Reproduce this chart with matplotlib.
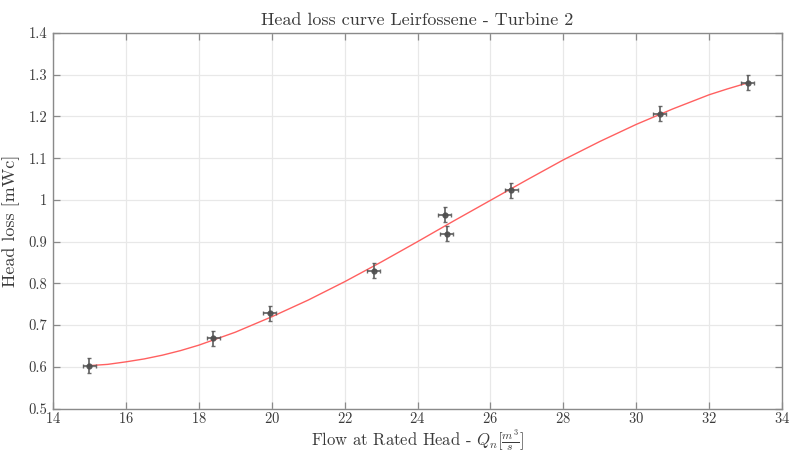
import matplotlib
matplotlib.use("Agg")
import matplotlib.pyplot as plt
from matplotlib.ticker import FuncFormatter

# measured operating points (flow, head loss) with their uncertainties
flow = [15.0, 18.4, 19.95, 22.8, 24.75, 24.8, 26.57, 30.65, 33.06]
head_loss = [0.603, 0.669, 0.728, 0.830, 0.964, 0.919, 1.023, 1.206, 1.281]
flow_err = 0.18
head_err = 0.018

# fitted head loss curve
curve_flow = [15, 15.5, 16, 16.5, 17, 17.5, 18, 19, 20, 21, 22, 23, 24, 25,
              26, 27, 28, 29, 30, 31, 32, 32.5, 33, 33.06]
curve_loss = [0.603, 0.606, 0.612, 0.619, 0.628, 0.639, 0.652, 0.683, 0.720,
              0.760, 0.804, 0.851, 0.900, 0.950, 0.999, 1.048, 1.096, 1.140,
              1.181, 1.218, 1.252, 1.266, 1.279, 1.281]

plt.rcParams['font.family'] = 'cmr10'
plt.rcParams['mathtext.fontset'] = 'cm'
plt.rcParams['axes.formatter.use_mathtext'] = True

txt = '#3a3a3a'
fig = plt.figure(figsize=(7.98, 4.54), dpi=100)
ax = fig.add_axes([0.0664, 0.1, 0.9136, 0.8273])

ax.plot(curve_flow, curve_loss, color='#ff6060', lw=1.0, zorder=2)
ax.errorbar(flow, head_loss, xerr=flow_err, yerr=head_err, fmt='o',
            ms=3.5, color='#505050', ecolor='#5a5a5a', elinewidth=1.3,
            capsize=1.5, capthick=1.0, alpha=0.9, zorder=3)

ax.set_xlim(14, 34)
ax.set_ylim(0.5, 1.4)
ax.set_xticks(range(14, 35, 2))
ax.set_yticks([0.5 + 0.1 * i for i in range(10)])
ax.yaxis.set_major_formatter(FuncFormatter(lambda v, p: '%g' % round(v, 2)))

ax.grid(True, color='#e8e8e8', lw=0.9)
ax.set_axisbelow(True)
for s in ax.spines.values():
    s.set_color('#8a8a8a')
    s.set_linewidth(1.0)
ax.tick_params(direction='in', length=5, width=0.9, color='#8a8a8a',
               top=True, right=True, labelsize=10.5, labelcolor=txt)
ax.tick_params(axis='x', pad=2)
ax.tick_params(axis='y', pad=4)

ax.set_title('Head loss curve Leirfossene - Turbine 2', fontsize=13,
             color=txt, pad=6)
ax.set_xlabel(r'Flow at Rated Head - $Q_n[\frac{m^3}{s}]$', fontsize=12,
              color=txt, labelpad=1)
ax.set_ylabel('Head loss [mWc]', fontsize=13, color=txt, labelpad=6)

fig.savefig('out.png', dpi=100)
